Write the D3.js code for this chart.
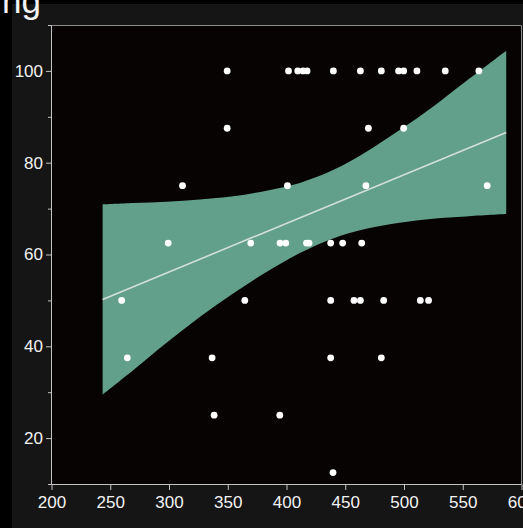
<!DOCTYPE html>
<html>
<head>
<meta charset="utf-8">
<script src="https://cdn.jsdelivr.net/npm/d3@7"></script>
<style>
  html, body { margin: 0; padding: 0; background: #000; }
  svg { display: block; }
  text { font-family: "Liberation Sans", Arial, sans-serif; fill: #f2f2f2; }
</style>
</head>
<body>
<svg width="523" height="528"></svg>
<script>
'use strict';

// tick labels
const xTicks = [200, 250, 300, 350, 400, 450, 500, 550, 600];
const yTicks = [20, 40, 60, 80, 100];
const yMinorTicks = [10, 30, 50, 70, 90, 110];

// scatter points
const pointX = [
  349.5, 401.7, 409.6, 414.1, 417.5, 439.9, 462.9, 480.7, 495.4, 499.7, 511.0, 535.1, 563.7,
  349.5, 469.7, 499.7,
  311.5, 400.8, 467.6, 570.8,
  299.3, 369.6, 394.5, 399.4, 417.0, 419.2, 437.6, 447.8, 464.0,
  259.7, 364.5, 437.6, 457.4, 462.9, 482.7, 513.9, 520.9,
  264.5, 336.7, 437.6, 480.7,
  338.4, 394.3,
  439.6
];
const pointY = [
  100, 100, 100, 100, 100, 100, 100, 100, 100, 100, 100, 100, 100,
  87.5, 87.5, 87.5,
  75, 75, 75, 75,
  62.5, 62.5, 62.5, 62.5, 62.5, 62.5, 62.5, 62.5, 62.5,
  50, 50, 50, 50, 50, 50, 50, 50,
  37.5, 37.5, 37.5, 37.5,
  25, 25,
  12.5
];

// fitted line and its confidence band
const fitX = [243.5, 587];
const fitY = [50.2, 86.6];
const bandX = [243.5, 269.5, 297.9, 326.2, 354.6, 383.0, 411.3, 439.6, 468.0, 496.3, 524.6, 553.0, 587.0];
const bandHigh = [70.9, 71.2, 71.5, 72.0, 72.7, 73.9, 75.6, 78.4, 82.4, 87.1, 92.2, 97.8, 104.4];
const bandLow = [29.5, 34.8, 40.8, 46.4, 51.5, 56.2, 60.3, 63.5, 65.6, 66.9, 67.8, 68.3, 68.8];

const svg = d3.select('svg');
const plot = {left: 51, top: 25, right: 521.5, bottom: 484};

const x = d3.scaleLinear().domain([200, 600]).range([51.5, 521.5]);
const y = d3.scaleLinear().domain([10, 110]).range([plot.bottom, plot.top]);

// grey panel and plot background
svg.append('rect')
  .attr('x', 12).attr('y', 4)
  .attr('width', 511).attr('height', 524)
  .attr('fill', '#151515');

// title, cut off by the window
svg.append('text')
  .attr('x', 41)
  .attr('y', 13)
  .attr('text-anchor', 'end')
  .style('font-size', '35px')
  .text('ng');

svg.append('rect')
  .attr('x', plot.left).attr('y', plot.top)
  .attr('width', plot.right - plot.left).attr('height', plot.bottom - plot.top)
  .attr('fill', '#070303');

svg.append('path')
  .attr('d', `M${plot.left - 2},${plot.top + 0.5}H${plot.right}V${plot.bottom}`)
  .attr('fill', 'none')
  .attr('stroke', '#8c8c8c')
  .attr('stroke-width', 1);

const band = d3.area()
  .curve(d3.curveCatmullRom)
  .x(i => x(bandX[i]))
  .y0(i => y(bandLow[i]))
  .y1(i => y(bandHigh[i]));

svg.append('path')
  .datum(d3.range(bandX.length))
  .attr('d', band)
  .attr('fill', '#62a08b');

const fit = d3.line()
  .x(i => x(fitX[i]))
  .y(i => y(fitY[i]));

svg.append('path')
  .datum(d3.range(fitX.length))
  .attr('d', fit)
  .attr('fill', 'none')
  .attr('stroke', '#d2dfd9')
  .attr('stroke-width', 1.6);

svg.append('g')
  .selectAll('circle')
  .data(d3.range(pointX.length))
  .enter().append('circle')
  .attr('cx', i => x(pointX[i]))
  .attr('cy', i => y(pointY[i]))
  .attr('r', 3.4)
  .attr('fill', '#ffffff');

/** Axes */
const styleAxis = g => {
  g.select('.domain').attr('stroke', '#c4c4c4');
  g.selectAll('.tick line').attr('stroke', '#c4c4c4');
  g.selectAll('.tick text')
    .attr('fill', '#f2f2f2')
    .style('font-size', '17px')
    .style('font-family', '"Liberation Sans", Arial, sans-serif');
};

svg.append('g')
  .attr('transform', `translate(${plot.left},0)`)
  .call(d3.axisLeft(y).tickValues(yMinorTicks).tickSize(3).tickSizeOuter(0).tickFormat(''))
  .call(styleAxis);

svg.append('g')
  .attr('transform', `translate(${plot.left},0)`)
  .call(d3.axisLeft(y).tickValues(yTicks).tickSize(5).tickSizeOuter(0).tickPadding(3))
  .call(styleAxis)
  .call(g => g.select('.domain').remove());

svg.append('g')
  .attr('transform', `translate(0,${plot.bottom})`)
  .call(d3.axisBottom(x).tickValues(xTicks).tickSize(6).tickSizeOuter(0).tickPadding(6))
  .call(styleAxis)
  .call(g => g.select('.domain').attr('d', `M${plot.left - 2},0.5H${plot.right}`));
</script>
</body>
</html>
